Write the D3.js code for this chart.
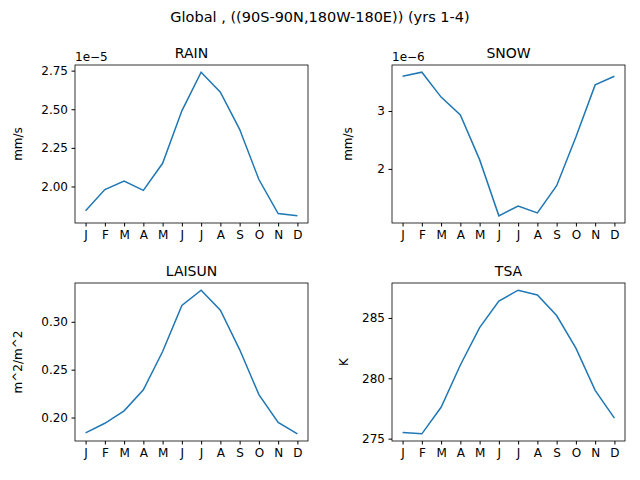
<!DOCTYPE html><html><head><script src="https://cdn.jsdelivr.net/npm/d3@7"></script>
<style>body{margin:0;background:#fff}text{font-family:"DejaVu Sans";}</style></head><body>
<svg id="c" width="640" height="480"></svg>
<script>
const months=["J","F","M","A","M","J","J","A","S","O","N","D"];
const rain=[1.843,1.98,2.035,1.975,2.15,2.49,2.74,2.61,2.37,2.045,1.825,1.81];
const snow=[3.6,3.67,3.24,2.93,2.16,1.19,1.36,1.24,1.71,2.55,3.45,3.6];
const laisun=[0.184,0.194,0.207,0.229,0.269,0.317,0.333,0.312,0.271,0.224,0.195,0.183];
const tsa=[275.5,275.4,277.6,281.1,284.2,286.4,287.3,286.9,285.2,282.5,279.0,276.7];
const panels=[
 {t:"RAIN",d:rain,y:"mm/s",x0:75,y0:65,lo:-53,ticks:[2.0,2.25,2.5,2.75],fmt:d3.format(".2f"),exp:"1e\u22125"},
 {t:"SNOW",d:snow,y:"mm/s",x0:392,y0:65,lo:-40,ticks:[2,3],fmt:d3.format("d"),exp:"1e\u22126"},
 {t:"LAISUN",d:laisun,y:"m^2/m^2",x0:75,y0:283,lo:-53,ticks:[0.2,0.25,0.3],fmt:d3.format(".2f")},
 {t:"TSA",d:tsa,y:"K",x0:392,y0:283,lo:-44,ticks:[275,280,285],fmt:d3.format("d")}];
const svg=d3.select("#c");
svg.append("text").attr("x",320).attr("y",22).attr("text-anchor","middle").attr("font-size",14.5).text("Global , ((90S-90N,180W-180E)) (yrs 1-4)");
const W=233,H=158;
panels.forEach(p=>{
 const g=svg.append("g").attr("transform",`translate(${p.x0},${p.y0})`);
 const x=d3.scaleLinear().domain([-0.55,11.55]).range([0,W]);
 const [a,b]=d3.extent(p.d),m=(b-a)*0.05;
 const y=d3.scaleLinear().domain([a-m,b+m]).range([H,0]);
 const xa=g.append("g").attr("transform",`translate(0,${H})`).call(d3.axisBottom(x).tickValues(d3.range(12)).tickFormat(i=>months[i]).tickSizeOuter(0).tickSize(3.5).tickPadding(3.5));
 const ya=g.append("g").call(d3.axisLeft(y).tickValues(p.ticks).tickFormat(p.fmt).tickSizeOuter(0).tickSize(3.5).tickPadding(3.5));
 [xa,ya].forEach(s=>{s.selectAll("text").attr("font-size",12).attr("fill","#000");s.select(".domain").remove();});
 g.append("path").datum(p.d).attr("fill","none").attr("stroke","#1f77b4").attr("stroke-width",1.5)
  .attr("d",d3.line().x((d,i)=>x(i)).y(d=>y(d)));
 g.append("rect").attr("width",W).attr("height",H).attr("fill","none").attr("stroke","#000").attr("stroke-width",0.8);
 g.append("text").attr("x",W/2).attr("y",-7).attr("text-anchor","middle").attr("font-size",14).text(p.t);
 g.append("text").attr("transform",`translate(${p.lo},${H/2}) rotate(-90)`).attr("text-anchor","middle").attr("font-size",12).text(p.y);
 if(p.exp) g.append("text").attr("x",0).attr("y",-4).attr("font-size",12).text(p.exp);
});
</script></body></html>
